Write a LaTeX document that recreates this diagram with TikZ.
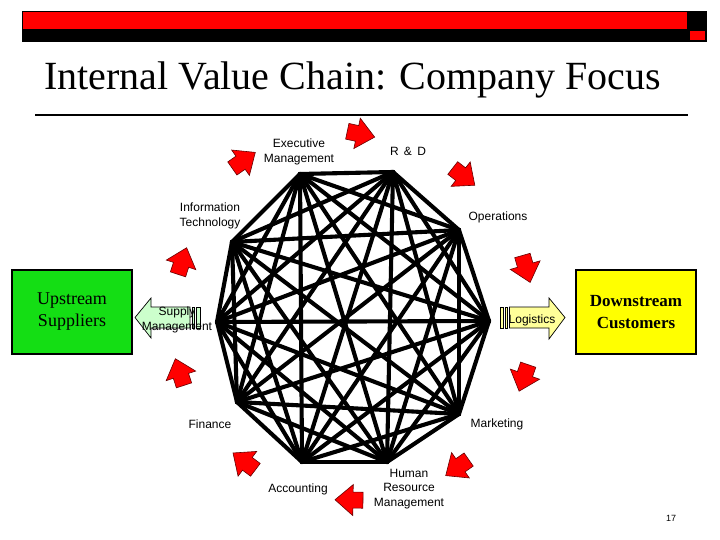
\documentclass[tikz,border=0pt]{standalone}
\usepackage{fontspec}
\setmainfont{Liberation Serif}
\newfontfamily\arialf{Liberation Sans}
\definecolor{boxgreen}{RGB}{20,222,20}
\definecolor{boxyellow}{RGB}{255,255,0}
\definecolor{lightgreen}{RGB}{204,255,204}
\definecolor{lightyellow}{RGB}{255,255,153}
\definecolor{hdrred}{RGB}{255,0,0}
\begin{document}
\begin{tikzpicture}[x=1pt,y=-1pt,
  lbl/.style={font=\arialf\fontsize{12}{14.5}\selectfont, align=center, inner sep=0pt},
  bigbox/.style={draw=black, line width=1.5pt, minimum width=120pt, minimum height=84pt, inner sep=0pt, align=center, font=\fontsize{18}{22}\selectfont},
  edge/.style={line width=4.1pt, line cap=round},
  flowarrow/.style={fill=lightgreen, draw=black, line width=0.7pt},
  redarr/.pic={\fill[hdrred, draw=black!60!red, line width=0.6pt]
     (-13,-8) -- (-3,-8) -- (-3,-15.5) -- (15,0) -- (-3,15.5) -- (-3,8) -- (-13,8) -- cycle;}
]
\useasboundingbox (0,0) rectangle (720,540);
\fill[white] (0,0) rectangle (720,540);
% header bar
\fill[black] (22,11) rectangle (707,42);
\fill[hdrred] (23,12.5) rectangle (687,29);
\fill[hdrred] (690,31) rectangle (705,40);
% title
\node[anchor=base west, inner sep=0pt, font=\fontsize{40}{48}\selectfont] (title) at (44,90) {Internal Value Chain: Company Focus};
\draw[line width=1.6pt] (35,115) -- (688,115);
% side boxes
\node[bigbox, fill=boxgreen] (up) at (72,312) {Upstream\\Suppliers};
\node[bigbox, fill=boxyellow, font=\bfseries\fontsize{17}{22}\selectfont] (down) at (636,312) {Downstream\\Customers};
% vertices
\coordinate (E) at (300,174);
\coordinate (R) at (393,172);
\coordinate (O) at (459,230);
\coordinate (L) at (489,321);
\coordinate (M) at (459,414);
\coordinate (H) at (387,462);
\coordinate (A) at (302,462);
\coordinate (F) at (237,402);
\coordinate (S) at (217,322);
\coordinate (I) at (232,242);
% complete graph
\foreach \a/\rest in {E/{R,O,L,M,H,A,F,S,I}, R/{O,L,M,H,A,F,S,I}, O/{L,M,H,A,F,S,I}, L/{M,H,A,F,S,I}, M/{H,A,F,S,I}, H/{A,F,S,I}, A/{F,S,I}, F/{S,I}, S/{I}}{
  \foreach \b in \rest { \draw[edge] (\a) -- (\b); }
}
% supply management arrow (left pointing, striped)
\draw[flowarrow] (135,317.5) -- (151,298) -- (151,307) -- (190,307) -- (190,328) -- (151,328) -- (151,338) -- cycle;
\draw[flowarrow] (192,307) rectangle (194.5,328);
\draw[flowarrow] (196.5,307) rectangle (200,328);
% logistics arrow (right pointing, striped)
\draw[flowarrow, fill=lightyellow] (565,317.5) -- (549,298) -- (549,307) -- (509.5,307) -- (509.5,328) -- (549,328) -- (549,339) -- cycle;
\draw[flowarrow, fill=lightyellow] (500.5,307) rectangle (503.5,328);
\draw[flowarrow, fill=lightyellow] (505,307) rectangle (507.5,328);
% labels
\node[lbl] (lE) at (299,152) {Executive\\Management};
\node[lbl] (lR) at (408,151) {R \,\&\, D};
\node[lbl] (lI) at (210,216) {Information\\Technology};
\node[lbl] (lO) at (498,217) {Operations};
\node[lbl] (lS) at (177,320) {Supply\\Management};
\node[lbl] (lL) at (532,320) {Logistics};
\node[lbl] (lF) at (210,424) {Finance};
\node[lbl] (lM) at (497,424) {Marketing};
\node[lbl] (lA) at (298,489) {Accounting};
\node[lbl] (lH) at (409,489) {Human\\Resource\\Management};
\node[lbl, font=\arialf\fontsize{9}{10}\selectfont] (pg) at (671,518) {17};
% red flow arrows
\pic[rotate=-12] (r1) at (360,134) {redarr};
\pic[rotate=-38] (r2) at (463,176) {redarr};
\pic[rotate=-74] (r3) at (526,268) {redarr};
\pic[rotate=-109] (r4) at (524,377) {redarr};
\pic[rotate=-145] (r5) at (458,467) {redarr};
\pic[rotate=179] (r6) at (350,500) {redarr};
\pic[rotate=143] (r7) at (245,462) {redarr};
\pic[rotate=108] (r8) at (180,373) {redarr};
\pic[rotate=72] (r9) at (182,262) {redarr};
\pic[rotate=35] (r10) at (243,161) {redarr};
\end{tikzpicture}
\end{document}
